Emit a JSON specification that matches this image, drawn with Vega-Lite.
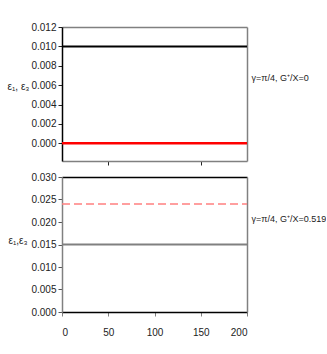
{
  "$schema": "https://vega.github.io/schema/vega-lite/v6.json",
  "padding": {"left": 7, "top": 22, "right": 0, "bottom": 0},
  "background": "white",
  "config": {
    "view": {"stroke": null},
    "font": "Liberation Sans",
    "axis": {
      "labelFont": "Liberation Sans",
      "labelFontSize": 10,
      "labelColor": "#222",
      "titleFont": "Liberation Sans",
      "titleFontSize": 10,
      "titleFontWeight": "normal",
      "titleColor": "#222",
      "grid": false,
      "tickSize": 4,
      "domainWidth": 1.5,
      "tickWidth": 1
    }
  },
  "datasets": {
    "lines": [
      {"panel": "top", "series": "black", "x": 0, "y": 0.010},
      {"panel": "top", "series": "black", "x": 200, "y": 0.010},
      {"panel": "top", "series": "red", "x": 0, "y": 0.000},
      {"panel": "top", "series": "red", "x": 200, "y": 0.000},
      {"panel": "bottom", "series": "pink", "x": 0, "y": 0.024},
      {"panel": "bottom", "series": "pink", "x": 200, "y": 0.024},
      {"panel": "bottom", "series": "gray", "x": 0, "y": 0.015},
      {"panel": "bottom", "series": "gray", "x": 200, "y": 0.015}
    ]
  },
  "vconcat": [
    {
      "width": 185,
      "height": 134,
      "data": {"name": "lines"},
      "layer": [
        {
          "transform": [{"filter": "datum.series == 'black'"}],
          "mark": {"type": "line", "color": "black", "strokeWidth": 2},
          "encoding": {
            "x": {"field": "x", "type": "quantitative", "scale": {"domain": [0, 200], "nice": false},
              "axis": {"orient": "bottom", "title": null, "labels": false, "values": [50, 150], "domainColor": "#808080", "tickColor": "#222"}},
            "y": {"field": "y", "type": "quantitative", "scale": {"domain": [-0.00183, 0.012], "nice": false, "zero": false},
              "axis": {"orient": "left", "values": [0, 0.002, 0.004, 0.006, 0.008, 0.01, 0.012], "format": ".3f", "domainColor": "black", "tickColor": "#222",
                "title": "ε₁, ε₃", "titleAngle": 0, "titleAlign": "left", "titleBaseline": "middle", "titleX": -55, "titleY": 59}}
          }
        },
        {
          "transform": [{"filter": "datum.series == 'red'"}],
          "mark": {"type": "line", "color": "#ff0000", "strokeWidth": 2.5},
          "encoding": {
            "x": {"field": "x", "type": "quantitative", "scale": {"domain": [0, 200], "nice": false},
              "axis": {"orient": "top", "title": null, "labels": false, "ticks": false, "domainColor": "#808080"}},
            "y": {"field": "y", "type": "quantitative", "scale": {"domain": [-0.00183, 0.012], "nice": false, "zero": false},
              "axis": {"orient": "right", "labels": false, "ticks": false, "domainColor": "#808080",
                "title": "γ=π/4, G⁺/X=0", "titleFontSize": 9, "titleAngle": 0, "titleAlign": "left", "titleBaseline": "middle", "titleX": 4, "titleY": 50}}
          }
        }
      ]
    },
    {
      "width": 185,
      "height": 135,
      "data": {"name": "lines"},
      "layer": [
        {
          "transform": [{"filter": "datum.series == 'gray'"}],
          "mark": {"type": "line", "color": "#808080", "strokeWidth": 2},
          "encoding": {
            "x": {"field": "x", "type": "quantitative", "scale": {"domain": [0, 200], "nice": false},
              "axis": {"orient": "bottom", "title": null, "values": [0, 50, 100, 150, 200], "labelPadding": 11, "domainColor": "black", "tickColor": "#808080"}},
            "y": {"field": "y", "type": "quantitative", "scale": {"domain": [0, 0.03], "nice": false},
              "axis": {"orient": "left", "values": [0, 0.005, 0.01, 0.015, 0.02, 0.025, 0.03], "format": ".3f", "domainColor": "#808080", "tickColor": "#555",
                "title": "ε₁,ε₃", "titleAngle": 0, "titleAlign": "left", "titleBaseline": "middle", "titleX": -54, "titleY": 63}}
          }
        },
        {
          "transform": [{"filter": "datum.series == 'pink'"}],
          "mark": {"type": "line", "color": "#ff8080", "strokeWidth": 1.5, "strokeDash": [8, 4]},
          "encoding": {
            "x": {"field": "x", "type": "quantitative", "scale": {"domain": [0, 200], "nice": false},
              "axis": {"orient": "top", "title": null, "labels": false, "ticks": false, "domainColor": "black"}},
            "y": {"field": "y", "type": "quantitative", "scale": {"domain": [0, 0.03], "nice": false},
              "axis": {"orient": "right", "labels": false, "ticks": false, "domainColor": "#808080",
                "title": "γ=π/4, G⁺/X=0.519", "titleFontSize": 9, "titleAngle": 0, "titleAlign": "left", "titleBaseline": "middle", "titleX": 4, "titleY": 41}}
          }
        }
      ]
    }
  ],
  "spacing": 16,
  "bounds": "flush"
}
